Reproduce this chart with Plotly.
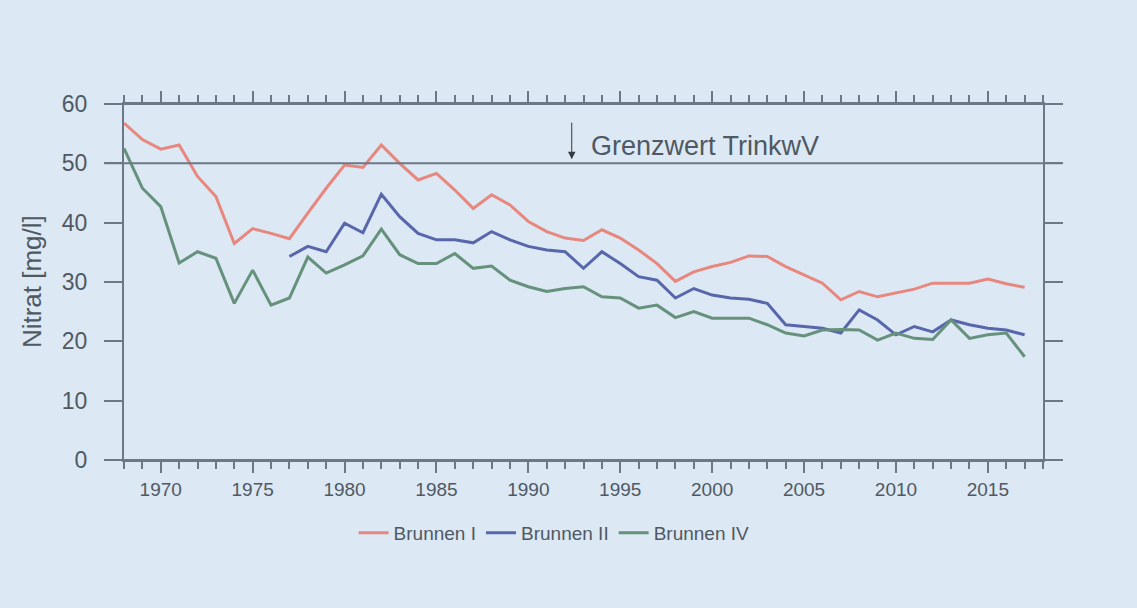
import plotly.graph_objects as go

years = list(range(1968, 2018))

brunnen_1 = [56.8, 54.0, 52.4, 53.1, 47.8, 44.4, 36.5, 39.0, 38.2, 37.3,
             41.6, 45.8, 49.7, 49.3, 53.1, 50.0, 47.2, 48.3, 45.5, 42.4,
             44.7, 43.0, 40.2, 38.5, 37.4, 37.0, 38.8, 37.4, 35.4, 33.1,
             30.1, 31.7, 32.6, 33.3, 34.4, 34.3, 32.6, 31.2, 29.8, 27.0,
             28.4, 27.5, 28.1, 28.8, 29.8, 29.8, 29.8, 30.5, 29.7, 29.1]

brunnen_2 = [None] * 9 + [
             34.3, 36.0, 35.1, 39.9, 38.3, 44.8, 41.0, 38.2, 37.1, 37.1,
             36.6, 38.5, 37.1, 36.0, 35.4, 35.1, 32.3, 35.1, 33.1, 30.9,
             30.3, 27.3, 28.9, 27.8, 27.3, 27.1, 26.4, 22.8, 22.5, 22.2,
             21.4, 25.3, 23.6, 21.1, 22.5, 21.6, 23.6, 22.8, 22.2, 21.9,
             21.1]

brunnen_4 = [52.5, 45.8, 42.7, 33.2, 35.1, 34.0, 26.4, 32.0, 26.1, 27.3,
             34.2, 31.5, 32.9, 34.4, 38.9, 34.6, 33.1, 33.1, 34.8, 32.3,
             32.7, 30.3, 29.2, 28.4, 28.9, 29.2, 27.5, 27.3, 25.6, 26.1,
             24.0, 25.0, 23.9, 23.9, 23.9, 22.8, 21.4, 20.9, 21.9, 22.0,
             21.9, 20.2, 21.4, 20.5, 20.3, 23.6, 20.5, 21.1, 21.4, 17.4]

series_names = ["Brunnen I", "Brunnen II", "Brunnen IV"]
series_colors = ["#e8877e", "#5867ac", "#66917c"]

x_tick_vals = [1970, 1975, 1980, 1985, 1990, 1995, 2000, 2005, 2010, 2015]
y_tick_vals = [0, 10, 20, 30, 40, 50, 60]
grenzwert = 50
grenzwert_label = "Grenzwert TrinkwV"
grenzwert_arrow_year = 1992.36
y_title = "Nitrat [mg/l]"

BG = "#dce8f3"
AX = "#6b7886"
TXT = "#4f5963"
FONT = "Liberation Sans, Arial, sans-serif"

fig = go.Figure()
for name, vals, col in zip(series_names, [brunnen_1, brunnen_2, brunnen_4], series_colors):
    fig.add_trace(go.Scatter(x=years, y=vals, mode="lines", name=name,
                             line=dict(color=col, width=3),
                             connectgaps=False))

# horizontal lines extending beyond the frame (0, 50, 60)
for yv in [0, grenzwert, 60]:
    fig.add_shape(type="line", xref="paper", yref="y", x0=-0.021, x1=1.021,
                  y0=yv, y1=yv, line=dict(color=AX, width=2), layer="above")

# arrow to Grenzwert line
fig.add_annotation(x=grenzwert_arrow_year, y=grenzwert + 0.7, xref="x", yref="y",
                   ax=0, ay=-38, showarrow=True, arrowhead=2, arrowsize=1.5,
                   arrowwidth=1, arrowcolor="#333a40", text="")
fig.add_annotation(x=grenzwert_arrow_year + 0.95, y=grenzwert + 2.9, xref="x", yref="y",
                   text=grenzwert_label, showarrow=False, xanchor="left", yanchor="middle",
                   font=dict(family=FONT, size=27, color=TXT))

fig.add_annotation(x=-0.1, y=0.5, xref="paper", yref="paper", text=y_title,
                   textangle=-90, showarrow=False, xanchor="center", yanchor="middle",
                   font=dict(family=FONT, size=26, color=TXT))

fig.update_layout(
    width=1137, height=608,
    margin=dict(l=124, r=94, t=104, b=148),
    paper_bgcolor=BG, plot_bgcolor=BG,
    font=dict(family=FONT, color=TXT),
    showlegend=True,
    legend=dict(orientation="h", x=0.468, y=-0.205, xanchor="center", yanchor="middle",
                font=dict(family=FONT, size=19, color=TXT), bgcolor="rgba(0,0,0,0)",
                itemwidth=30, tracegroupgap=0),
    xaxis=dict(range=[1968, 2018], tickmode="array", tickvals=x_tick_vals,
               ticktext=[str(v) for v in x_tick_vals],
               showgrid=False, zeroline=False, showline=True, linecolor=AX, linewidth=2,
               mirror="ticks", ticks="outside", ticklen=11, tickwidth=1.5, tickcolor=AX,
               tickfont=dict(family=FONT, size=19, color=TXT),
               minor=dict(tickmode="linear", tick0=1968, dtick=1, ticks="outside",
                          ticklen=7, tickwidth=1.5, tickcolor=AX, showgrid=False)),
    yaxis=dict(range=[0, 60], tickmode="array", tickvals=y_tick_vals,
               showgrid=False, zeroline=False, showline=True, linecolor=AX, linewidth=2,
               mirror="ticks", ticks="outside", ticklen=18, tickwidth=2, tickcolor=AX,
               ticklabelstandoff=12,
               tickfont=dict(family=FONT, size=23, color=TXT)),
)

fig.write_html("out.html")
